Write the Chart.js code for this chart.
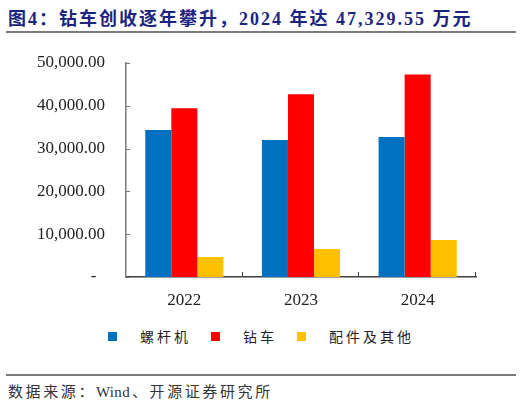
<!DOCTYPE html>
<html><head><meta charset="utf-8">
<script src="https://cdn.jsdelivr.net/npm/chart.js@4.4.1/dist/chart.umd.min.js"></script>
<style>
html,body{margin:0;padding:0;background:#fff}
body{width:522px;height:405px;position:relative;overflow:hidden;font-family:"Liberation Serif","Noto Sans CJK SC",serif}
#title{position:absolute;left:8px;top:4px;font-size:18px;font-weight:bold;color:#1b2580;white-space:nowrap;letter-spacing:2px;font-family:"Liberation Serif","Noto Sans CJK SC",serif}
.rule{position:absolute;left:6px;width:510px;height:2px;background:#7a7a7a}
#wrap{position:absolute;left:0;top:40px;width:522px;height:280px}
#legend{position:absolute;left:0;top:326px;width:522px;display:flex;justify-content:center;align-items:center;font-family:"Noto Sans CJK SC",sans-serif;font-size:14px;color:#222;letter-spacing:3px}
.li{display:flex;align-items:center;margin:0 10px}
.sw{width:9px;height:9px;margin-right:23px}
#source{position:absolute;left:8px;top:380px;font-size:15px;color:#333;letter-spacing:2.6px;white-space:nowrap;font-family:"Liberation Serif","Noto Sans CJK SC",serif}
#source .en{letter-spacing:0.3px;margin-right:2px}
</style></head>
<body>
<div id="title">图4：钻车创收逐年攀升，2024 年达 47,329.55 万元</div>
<div class="rule" style="top:31px"></div>
<div id="wrap"><canvas id="c" width="522" height="280"></canvas></div>
<div id="legend"></div>
<div class="rule" style="top:374px"></div>
<div id="source">数据来源：<span class="en">Wind</span>、开源证券研究所</div>
<script>
const categories = ['2022', '2023', '2024'];
const seriesNames = ['螺杆机', '钻车', '配件及其他'];
const screwValues = [34350, 32000, 32710];
const drillValues = [39420, 42690, 47329.55];
const partsValues = [4670, 6540, 8640];
const seriesColors = ['#0070C0', '#FF0000', '#FFC000'];
const yTicks = [0, 10000, 20000, 30000, 40000, 50000];

const seriesValues = [screwValues, drillValues, partsValues];

const lg = document.getElementById('legend');
seriesNames.forEach((n, i) => {
  const d = document.createElement('div'); d.className = 'li';
  const s = document.createElement('div'); s.className = 'sw'; s.style.background = seriesColors[i];
  const t = document.createElement('span'); t.textContent = n;
  d.appendChild(s); d.appendChild(t); lg.appendChild(d);
});

const tickPlugin = {
  id: 'innerTicks',
  afterDraw(chart) {
    const ctx = chart.ctx, x = chart.scales.x, y = chart.scales.y;
    ctx.save();
    ctx.strokeStyle = '#7a7a7a'; ctx.lineWidth = 1;
    yTicks.forEach(v => {
      const py = Math.round(y.getPixelForValue(v)) + 0.5;
      ctx.beginPath(); ctx.moveTo(x.left, py); ctx.lineTo(x.left + 4, py); ctx.stroke();
    });
    const n = categories.length, w = (x.right - x.left) / n;
    ctx.strokeStyle = '#404040';
    for (let i = 1; i <= n; i++) {
      const px = Math.round(x.left + w * i) - 0.5;
      ctx.beginPath(); ctx.moveTo(px, y.bottom); ctx.lineTo(px, y.bottom - 5); ctx.stroke();
    }
    ctx.restore();
  }
};

new Chart(document.getElementById('c'), {
  type: 'bar',
  data: {
    labels: categories,
    datasets: seriesNames.map((n, i) => ({
      label: n, data: seriesValues[i], backgroundColor: seriesColors[i],
      borderWidth: 0, barPercentage: 1.0, categoryPercentage: 0.67
    }))
  },
  options: {
    responsive: false, animation: false, devicePixelRatio: 1,
    layout: { padding: { left: 0, right: 46, top: 23, bottom: 0 } },
    plugins: { legend: { display: false }, tooltip: { enabled: false } },
    scales: {
      x: {
        grid: { display: false },
        border: { display: true, color: '#404040', width: 1.5 },
        ticks: { color: '#222', padding: 5, font: { family: 'Liberation Serif', size: 17 } },
        afterFit: s => { s.height = 43; }
      },
      y: {
        min: 0, max: 50000,
        afterBuildTicks: s => { s.ticks = yTicks.map(v => ({ value: v })); },
        grid: { display: false, drawTicks: false },
        border: { display: true, color: '#7a7a7a', width: 1.5 },
        ticks: {
          color: '#222', padding: 21, font: { family: 'Liberation Serif', size: 17 },
          callback: v => v === 0 ? '-  ' : v.toLocaleString('en-US', { minimumFractionDigits: 2, maximumFractionDigits: 2 })
        },
        afterFit: s => { s.width = 126; s.paddingTop = 0; s.paddingBottom = 0; }
      }
    }
  },
  plugins: [tickPlugin]
});
</script>
</body></html>
